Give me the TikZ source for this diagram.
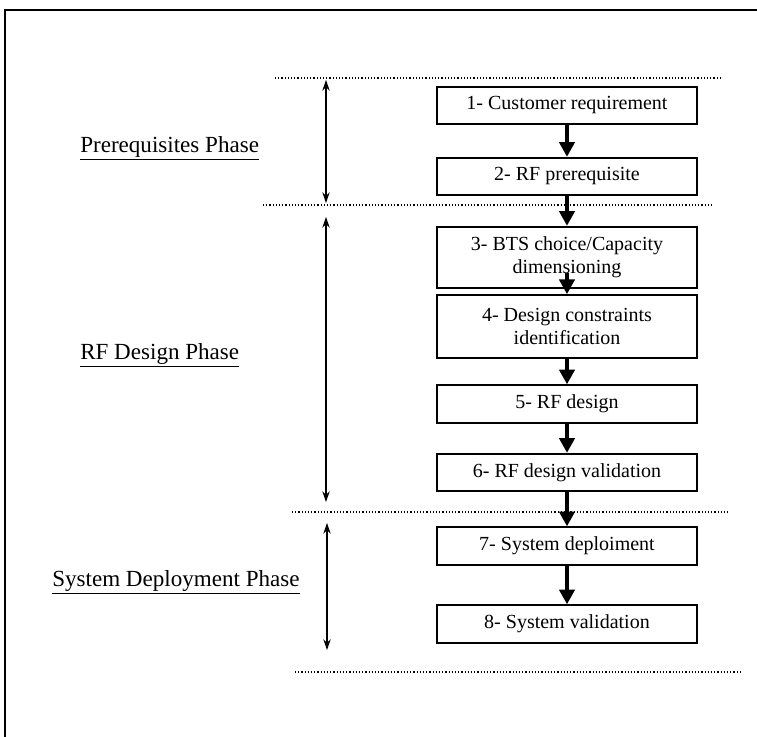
\documentclass[tikz,border=0pt]{standalone}
\usepackage{fontspec}
\setmainfont{Liberation Serif}
\usetikzlibrary{arrows.meta}

\begin{document}
\begin{tikzpicture}[x=0.75pt,y=-0.75pt,
		stepbox/.style={draw, line width=1.6pt, minimum width=195pt, minimum height=28pt,
			align=center, inner sep=2pt, font=\fontsize{15}{17.5}\selectfont},
		flow/.style={line width=2.4pt, -{Triangle[length=11pt,width=11.5pt]}},
		span/.style={line width=0.9pt, {Stealth[length=8pt,width=5.5pt]}-{Stealth[length=8pt,width=5.5pt]}},
		sep/.style={line width=1.3pt, dash pattern=on 0.9pt off 1.5pt},
		phase/.style={anchor=west, inner sep=0pt, font=\fontsize{17.3}{20}\selectfont}]
				\useasboundingbox (0,0) rectangle (757,737);
				\draw[line width=1.8pt] (5,737) -- (5,10) -- (757,10);
				
				% phase separators
				\coordinate (S1a) at (275,78);
				\coordinate (S1b) at (722,78);
				\coordinate (S2a) at (263,205);
				\coordinate (S2b) at (712,205);
				\coordinate (S3a) at (292,512);
				\coordinate (S3b) at (730,512);
				\coordinate (S4a) at (295,672);
				\coordinate (S4b) at (740,672);
				
				% phase extents
				\coordinate (P1t) at (326,80);
				\coordinate (P1b) at (326,203);
				\coordinate (P2t) at (326,217);
				\coordinate (P2b) at (326,502);
				\coordinate (P3t) at (327,523);
				\coordinate (P3b) at (327,650);
				
				\draw[sep] (S1a) -- (S1b);
				\draw[sep] (S2a) -- (S2b);
				\draw[sep] (S3a) -- (S3b);
				\draw[sep] (S4a) -- (S4b);
				
				\node[phase] (pre) at (80,148) {\underline{Prerequisites Phase}};
				\node[phase] (rfd) at (80,355) {\underline{RF Design Phase}};
				\node[phase] (sys) at (52,582) {\underline{System Deployment Phase}};
				
				\draw[span] (P1t) -- (P1b);
				\draw[span] (P2t) -- (P2b);
				\draw[span] (P3t) -- (P3b);
				
				\node[stepbox] (b1) at (567,105.5) {1- Customer requirement};
				\node[stepbox] (b2) at (567,176.5) {2- RF prerequisite};
				\node[stepbox, minimum height=46pt] (b3) at (567,257.5) {3- BTS choice/Capacity\\dimensioning};
				\node[stepbox, minimum height=47pt] (b4) at (567,326.5) {4- Design constraints\\identification};
				\node[stepbox] (b5) at (567,404) {5- RF design};
				\node[stepbox] (b6) at (567,472.5) {6- RF design validation};
				\node[stepbox] (b7) at (567,546) {7- System deploiment};
				\node[stepbox] (b8) at (567,624) {8- System validation};
				
				\draw[flow] (b1) -- (b2);
				\draw[flow] (b2) -- (b3);
				\draw[flow] ([yshift=12pt]b3.south) -- (b4.north);
				\draw[flow] (b4) -- (b5);
				\draw[flow] (b5) -- (b6);
				\draw[flow] (b6) -- (b7);
				\draw[flow] (b7) -- (b8);
			\end{tikzpicture}
\end{document}
